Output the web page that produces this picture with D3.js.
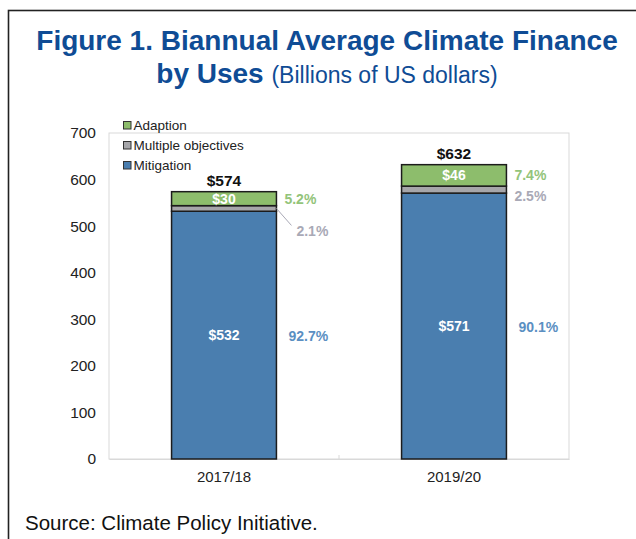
<!DOCTYPE html>
<html>
<head>
<meta charset="utf-8">
<script src="https://cdn.jsdelivr.net/npm/d3@7"></script>
<style>
  body { margin: 0; background: #fff; }
  svg { display: block; font-family: "Liberation Sans", Arial, sans-serif; }
</style>
</head>
<body>
<svg id="chart" width="636" height="539"></svg>
<script>
// chart data
var periods = ["2017/18", "2019/20"];
var mitigation = [532, 571];
var multiple = [12, 15];
var adaptation = [30, 46];
var totals = [574, 632];
var mitigationPct = ["92.7%", "90.1%"];
var multiplePct = ["2.1%", "2.5%"];
var adaptationPct = ["5.2%", "7.4%"];
var yTicks = [0, 100, 200, 300, 400, 500, 600, 700];

(function() {
  var keys = ["mitigation", "multiple", "adaptation"];
  var legendNames = { adaptation: "Adaption", multiple: "Multiple objectives", mitigation: "Mitigation" };
  var fills = { mitigation: "#4a7eaf", multiple: "#a6a6aa", adaptation: "#8dbd6c" };
  var pctColors = { mitigation: "#5b8fc2", multiple: "#a9a9b6", adaptation: "#93c47a" };

  var rows = periods.map(function(p, i) {
    return { period: p, mitigation: mitigation[i], multiple: multiple[i], adaptation: adaptation[i],
             total: totals[i], pct: { mitigation: mitigationPct[i], multiple: multiplePct[i], adaptation: adaptationPct[i] } };
  });

  var svg = d3.select("#chart");

  // outer frame
  svg.append("rect")
      .attr("x", 8.5).attr("y", 10.5)
      .attr("width", 700).attr("height", 600)
      .attr("fill", "none").attr("stroke", "#222").attr("stroke-width", 1.6);

  // title
  var titleBlue = "#0f4c95";
  svg.append("text")
      .attr("x", 327).attr("y", 50)
      .attr("text-anchor", "middle")
      .attr("fill", titleBlue)
      .style("font-size", "28px").style("font-weight", "bold")
      .text("Figure 1. Biannual Average Climate Finance");

  var t2 = svg.append("text")
      .attr("x", 327).attr("y", 83)
      .attr("text-anchor", "middle")
      .attr("fill", titleBlue);
  t2.append("tspan").style("font-size", "28px").style("font-weight", "bold").text("by Uses ");
  t2.append("tspan").style("font-size", "23px").text("(Billions of US dollars)");

  // plot area
  var plotLeft = 109, plotRight = 569, plotTop = 133, plotBottom = 459;

  var x = d3.scaleBand()
      .domain(periods)
      .range([plotLeft, plotRight])
      .paddingInner(0.544)
      .paddingOuter(0.272);

  var y = d3.scaleLinear()
      .domain([0, 700])
      .range([plotBottom, plotTop]);

  svg.append("rect")
      .attr("x", plotLeft).attr("y", plotTop)
      .attr("width", plotRight - plotLeft).attr("height", plotBottom - plotTop)
      .attr("fill", "none").attr("stroke", "#d9d9d9").attr("stroke-width", 1);

  // y axis labels
  svg.append("g")
      .attr("transform", "translate(" + plotLeft + ",0)")
      .call(d3.axisLeft(y).tickValues(yTicks).tickSize(0).tickPadding(13))
      .call(function(g) { g.select(".domain").remove(); })
      .selectAll("text")
      .attr("fill", "#222")
      .style("font-size", "15.5px")
      .style("font-family", "Liberation Sans, Arial, sans-serif");

  // x axis
  var xAxis = svg.append("g")
      .attr("transform", "translate(0," + plotBottom + ")")
      .call(d3.axisBottom(x).tickSize(0).tickPadding(12));
  xAxis.select(".domain").attr("stroke", "#d9d9d9");
  xAxis.selectAll("text")
      .attr("fill", "#222")
      .style("font-size", "15px")
      .style("font-family", "Liberation Sans, Arial, sans-serif");

  // middle tick between categories
  svg.append("line")
      .attr("x1", (plotLeft + plotRight) / 2).attr("x2", (plotLeft + plotRight) / 2)
      .attr("y1", plotBottom).attr("y2", plotBottom - 4)
      .attr("stroke", "#d9d9d9");

  // stacked bars
  var series = d3.stack().keys(keys)(rows);

  var layer = svg.selectAll("g.layer")
      .data(series)
    .enter().append("g")
      .attr("class", "layer");

  layer.selectAll("rect")
      .data(function(s) { return s.map(function(d) { d.key = s.key; return d; }); })
    .enter().append("rect")
      .attr("x", function(d) { return x(d.data.period); })
      .attr("y", function(d) { return y(d[1]); })
      .attr("width", x.bandwidth())
      .attr("height", function(d) { return y(d[0]) - y(d[1]); })
      .attr("fill", function(d) { return fills[d.key]; })
      .attr("stroke", "#1c1c1c")
      .attr("stroke-width", 1.5);

  // values inside bars (mitigation and adaptation)
  series.filter(function(s) { return s.key !== "multiple"; }).forEach(function(s) {
    svg.selectAll(null)
        .data(s)
      .enter().append("text")
        .attr("x", function(d) { return x(d.data.period) + x.bandwidth() / 2; })
        .attr("y", function(d) { return (y(d[0]) + y(d[1])) / 2 + 5; })
        .attr("text-anchor", "middle")
        .attr("fill", "#fff")
        .style("font-size", "14px").style("font-weight", "bold")
        .text(function(d) { return "$" + (d[1] - d[0]); });
  });

  // percentage labels at the right of bars
  series.forEach(function(s) {
    svg.selectAll(null)
        .data(s)
      .enter().append("text")
        .attr("x", function(d) { return x(d.data.period) + x.bandwidth() + (s.key === "mitigation" ? 12 : 8); })
        .attr("y", function(d, i) {
          var mid = (y(d[0]) + y(d[1])) / 2;
          if (s.key === "multiple") return i === 0 ? mid + 28 : mid + 11;
          if (s.key === "mitigation") return mid + 6;
          return mid + 5;
        })
        .attr("dx", function(d, i) { return (s.key === "multiple" && i === 0) ? 12 : 0; })
        .attr("fill", pctColors[s.key])
        .style("font-size", "14px").style("font-weight", "bold")
        .text(function(d) { return d.data.pct[s.key]; });
  });

  // leader line for the small multiple-objectives share in the first bar
  var m0 = series[1][0];
  svg.append("line")
      .attr("x1", x(periods[0]) + x.bandwidth())
      .attr("y1", (y(m0[0]) + y(m0[1])) / 2)
      .attr("x2", x(periods[0]) + x.bandwidth() + 15)
      .attr("y2", (y(m0[0]) + y(m0[1])) / 2 + 17)
      .attr("stroke", "#a9a9b6")
      .attr("stroke-width", 1);

  // totals above bars
  svg.selectAll(null)
      .data(rows)
    .enter().append("text")
      .attr("x", function(d) { return x(d.period) + x.bandwidth() / 2; })
      .attr("y", function(d) { return y(d.total) - 6; })
      .attr("text-anchor", "middle")
      .attr("fill", "#111")
      .style("font-size", "15.5px").style("font-weight", "bold")
      .text(function(d) { return "$" + d.total; });

  // legend
  var legendKeys = ["adaptation", "multiple", "mitigation"];
  var legend = svg.selectAll("g.legend")
      .data(legendKeys)
    .enter().append("g")
      .attr("class", "legend")
      .attr("transform", function(d, i) { return "translate(123," + (125 + i * 20) + ")"; });

  legend.append("rect")
      .attr("x", 0.5).attr("y", -3.5)
      .attr("width", 7.5).attr("height", 7.5)
      .attr("fill", function(d) { return fills[d]; })
      .attr("stroke", "#333").attr("stroke-width", 1);

  legend.append("text")
      .attr("x", 10.5).attr("y", 5)
      .attr("fill", "#222")
      .style("font-size", "13.5px")
      .text(function(d) { return legendNames[d]; });

  // source
  svg.append("text")
      .attr("x", 25).attr("y", 530)
      .attr("fill", "#111")
      .style("font-size", "20.5px")
      .text("Source: Climate Policy Initiative.");
})();
</script>
</body>
</html>
